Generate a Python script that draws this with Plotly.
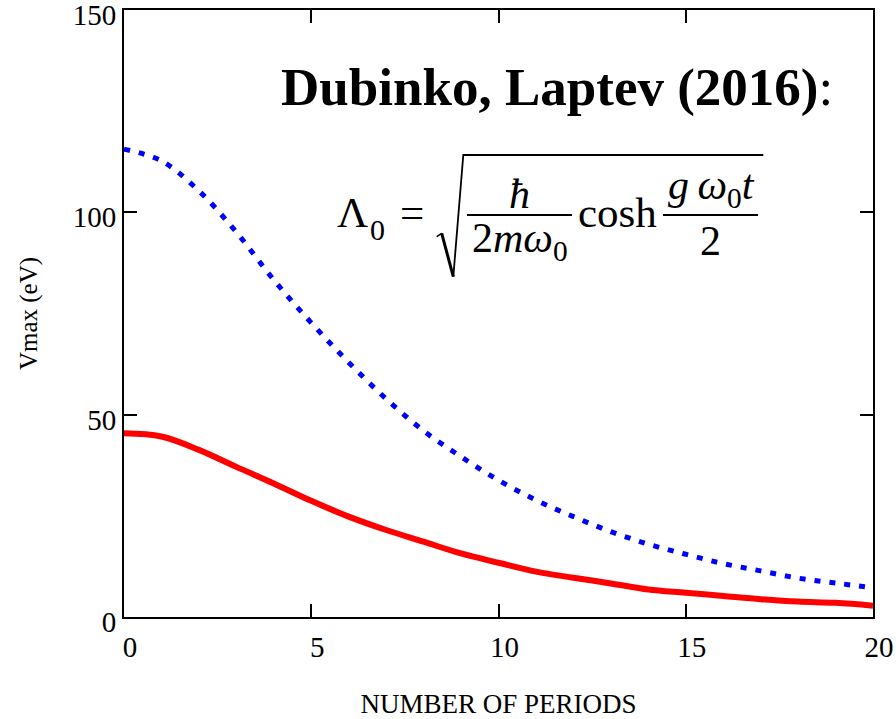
import plotly.graph_objects as go

# Number of oscillation periods
periods = [0, 1, 2, 3, 4, 5, 6, 7, 8, 9, 10, 11, 12, 13, 14, 15, 16, 17, 18, 19, 20]

# Maximum potential energy (eV), upper (dotted) and lower (solid) curves
vmax_upper = [115.6, 112.7, 105.3, 95.1, 83.3, 72.7, 62.9, 53.9, 46.0, 39.6, 33.8,
              28.9, 24.8, 21.1, 18.0, 15.5, 13.2, 11.4, 9.6, 8.4, 7.2]
vmax_lower = [45.4, 44.6, 41.3, 37.1, 33.0, 28.7, 24.8, 21.5, 18.6, 15.7, 13.4,
              11.2, 9.7, 8.3, 6.8, 6.0, 5.2, 4.4, 3.8, 3.5, 2.8]

x_ticks = [0, 5, 10, 15, 20]
y_ticks = [0, 50, 100, 150]

W, H = 896, 719
L, R, T, B = 124, 873, 10, 617
SERIF = "Liberation Serif"


def px(x):
    return (x - L) / (R - L)


def py(y):
    return (B - y) / (B - T)


fig = go.Figure()
fig.add_trace(go.Scatter(
    x=periods, y=vmax_upper, mode="lines", line_shape="spline",
    line=dict(color="#0000ff", width=5, dash="6px,9px"), showlegend=False))
fig.add_trace(go.Scatter(
    x=periods, y=vmax_lower, mode="lines", line_shape="spline",
    line=dict(color="#ff0000", width=6), showlegend=False))

axis_common = dict(
    showgrid=False, zeroline=False, showline=True, linecolor="black", linewidth=2,
    mirror="ticks", ticks="inside", ticklen=13, tickwidth=2, tickcolor="black",
    tickfont=dict(family=SERIF, size=29, color="black"), automargin=False,
    ticklabeloverflow="allow",
)
fig.update_xaxes(range=[0, 20], tickvals=x_ticks, ticklabelshift=6, ticklabelstandoff=3,
                 title=dict(text="NUMBER OF PERIODS",
                            font=dict(family=SERIF, size=27, color="black"),
                            standoff=53),
                 **axis_common)
fig.update_yaxes(range=[0, 150], tickvals=y_ticks, ticklabelshift=5, ticklabelstandoff=0,
                 title=dict(text="Vmax (eV)",
                            font=dict(family=SERIF, size=25, color="black"),
                            standoff=28),
                 **axis_common)

annotations = []


def text_at(text, cx, baseline, size, **kw):
    # centre of the text box sits about 0.34 em above the baseline
    annotations.append(dict(
        text=text, x=px(cx), y=py(baseline - 0.3375 * size), xref="paper", yref="paper",
        xanchor="center", yanchor="middle", showarrow=False,
        font=dict(family=SERIF, size=size, color="black"), **kw))


# heading
text_at("<b>Dubinko, Laptev (2016)</b>:", 557, 105, 53)

# formula pieces
FS = 42
text_at("Λ", 352, 227, 43)
text_at("0", 377, 240, 30)
text_at("=", 412, 227, 43)
text_at("<i>ħ</i>", 519, 208, FS)
text_at("2<i>mω</i><sub>0</sub>", 520, 255, FS)
text_at("cosh", 617, 227, 43)
text_at("<i>g\u2009ω</i><sub>0</sub><i>t</i>", 711, 202, FS)
text_at("2", 710, 255, FS)

shapes = []
# fraction bars
for x0, x1 in [(467, 572), (663, 758)]:
    shapes.append(dict(type="line", xref="paper", yref="paper",
                       x0=px(x0), x1=px(x1), y0=py(215), y1=py(215),
                       line=dict(color="black", width=2)))
# radical sign
shapes.append(dict(type="path", xref="paper", yref="paper",
                   path=f"M {px(436.7)} {py(236.7)} L {px(441.7)} {py(233.3)}",
                   line=dict(color="black", width=1.5)))
shapes.append(dict(type="path", xref="paper", yref="paper",
                   path=f"M {px(441.7)} {py(233.3)} L {px(453.3)} {py(276.7)}",
                   line=dict(color="black", width=3)))
shapes.append(dict(type="path", xref="paper", yref="paper",
                   path=f"M {px(453.3)} {py(276.7)} L {px(463.3)} {py(155)} L {px(763.3)} {py(155)}",
                   line=dict(color="black", width=1.8)))

fig.update_layout(
    width=W, height=H,
    margin=dict(l=L, r=W - R, t=T, b=H - B, pad=0, autoexpand=False),
    plot_bgcolor="white", paper_bgcolor="white",
    annotations=annotations, shapes=shapes,
)

fig.write_html("out.html")
